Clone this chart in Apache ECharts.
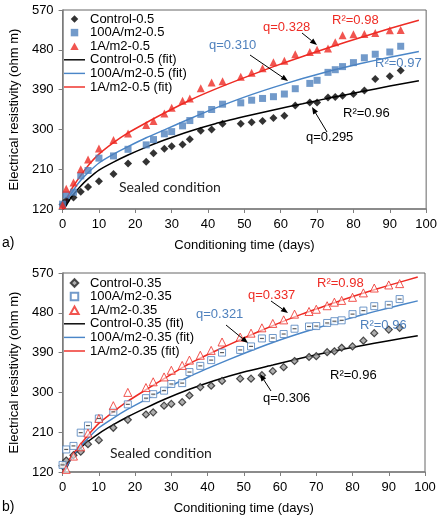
<!DOCTYPE html>
<html><head><meta charset="utf-8">
<script src="https://cdn.jsdelivr.net/npm/echarts@6/dist/echarts.min.js"></script>
<style>html,body{margin:0;padding:0;background:#fff}#c{width:440px;height:517px}</style>
</head><body><div id="c"></div>
<script>
// ---- data ----
const days = [0,1,3,5,7,10,14,18,23,25,28,30,33,35,38,41,44,49,52,55,58,61,64,68,70,73,75,77,80,83,86,90,93];
// panel a) w/c 0.5
const control05 = [130,139,146,159,170,183,199,223,227,246,256,262,266,278,297,300,313,313,316,319,326,331,354,361,361,372,373,376,380,388,414,420,433];
const a100_05   = [131,152,158,195,207,235,240,255,265,277,290,295,308,320,334,345,357,360,366,370,374,380,392,404,411,429,435,442,451,462,470,475,488];
const a1_05     = [129,166,180,210,232,257,276,291,310,319,336,349,365,370,393,406,409,419,428,438,452,455,470,475,480,483,497,513,515,516,518,524,525];
// panel b) w/c 0.35
const control035 = [134,146,158,166,183,192,220,238,250,255,270,274,278,293,312,315,326,331,331,339,348,357,371,380,382,391,393,401,404,417,434,442,446];
const a100_035   = [136,171,179,209,225,241,256,273,287,296,304,319,321,346,360,373,390,396,404,422,423,432,444,449,450,457,461,463,477,485,495,498,511];
const a1_035     = [null,126,156,177,208,241,270,300,311,324,335,350,361,373,384,395,414,425,434,446,456,464,477,483,488,496,504,508,515,525,536,543,546];
// fitted curves
const fitDays = [0,1,2,3,5,7,10,14,18,23,28,35,42,50,58,66,74,82,90,98];
const fitControl05 = [118,128,142,153,172,188,208,226,242,260,276,296,313,329,344,358,372,385,398,410];
const fit100_05    = [118,135,150,163,185,202,224,244,261,281,299,324,348,373,395,415,433,449,463,476];
const fit1_05      = [118,140,158,172,196,218,244,270,292,315,337,366,391,417,442,465,487,508,528,547];
const fitControl035 = [118,128,145,157,175,189,207,227,245,265,284,307,327,346,362,378,392,405,417,428];
const fit100_035    = [118,130,145,157,178,196,220,242,262,284,306,336,361,388,413,435,455,474,491,507];
const fit1_035      = [118,135,150,162,183,203,230,256,280,306,331,365,393,423,451,477,500,522,542,561];
// ticks
const yTicks = [120,210,300,390,480,570];
const xTicks = [0,10,20,30,40,50,60,70,80,90,100];

// ---- helpers ----
const FONT = '"Liberation Sans", Arial, sans-serif';
const pts = (xs, vs) => xs.map((d,i)=> vs[i]==null ? null : [d, vs[i]]).filter(p=>p);
const RED = '#ee2b24', BLUE = '#4f81bd', BLUEL = '#4a86c8';
const LINE_ICON = 'path://M0,0H22V1.5H0Z';
const DIAMOND_ICON = 'path://M5,0L10,5L5,10L0,5Z';
const RECT_ICON = 'path://M0,0H10V10H0Z';
const TRI_ICON = 'path://M5,0L10,9H0Z';

function axes(gi){
  const x = {
    gridIndex: gi, type:'value', min: xTicks[0], max: xTicks[xTicks.length-1], interval: xTicks[1]-xTicks[0],
    axisLine:{show:true, onZero:false, lineStyle:{color:'#7f7f7f', width:1.5}},
    axisTick:{show:true, length:4, lineStyle:{color:'#7f7f7f'}},
    axisLabel:{color:'#000', fontSize:13, fontFamily:FONT, margin:9},
    splitLine:{show:false},
    name:'Conditioning time (days)', nameLocation:'middle', nameGap:30,
    nameTextStyle:{color:'#000', fontSize:13, fontFamily:FONT}
  };
  const y = {
    gridIndex: gi, type:'value', min: yTicks[0], max: yTicks[yTicks.length-1], interval: yTicks[1]-yTicks[0],
    axisLine:{show:true, onZero:false, lineStyle:{color:'#7f7f7f', width:1.5}},
    axisTick:{show:true, length:4, lineStyle:{color:'#7f7f7f'}},
    axisLabel:{color:'#000', fontSize:13, fontFamily:FONT, margin:9},
    splitLine:{show:false},
    name:'Electrical resistivity (ohm m)', nameLocation:'middle', nameGap:40,
    nameTextStyle:{color:'#000', fontSize:13, fontFamily:FONT}
  };
  return [x,y];
}
function fitSeries(name, gi, vals, color){
  return {name, type:'line', xAxisIndex:gi, yAxisIndex:gi, smooth:0.2,
    symbol:'none', clip:true, data: pts(fitDays, vals),
    lineStyle:{color, width:1.5}, itemStyle:{color}, z:2};
}
function scat(name, gi, vals, symbol, size, style){
  return {name, type:'scatter', xAxisIndex:gi, yAxisIndex:gi, symbol, symbolSize:size,
    data: pts(days, vals), itemStyle:style, z:3};
}
function arrow(x1,y1,x2,y2){
  const ang = Math.atan2(y2-y1, x2-x1), L=7, W=2.8;
  const bx = x2 - L*Math.cos(ang), by = y2 - L*Math.sin(ang);
  const px = -Math.sin(ang)*W, py = Math.cos(ang)*W;
  return [
    {type:'line', shape:{x1,y1,x2:bx,y2:by}, style:{stroke:'#000', lineWidth:1}, z:10},
    {type:'polygon', shape:{points:[[x2,y2],[bx+px,by+py],[bx-px,by-py]]}, style:{fill:'#000'}, z:10}
  ];
}
function txt(text, x, y, fill, font){
  return {type:'text', x, y, z:10, style:{text, fill, font: font || ('13px ' + FONT), align:'left', verticalAlign:'middle'}};
}
function legendData(suffix){
  return [
    {name:'Control-' + suffix, icon:DIAMOND_ICON},
    {name:'100A/m2-' + suffix, icon:RECT_ICON},
    {name:'1A/m2-' + suffix, icon:TRI_ICON},
    {name:'Control-' + suffix + ' (fit)', icon:LINE_ICON},
    {name:'100A/m2-' + suffix + ' (fit)', icon:LINE_ICON},
    {name:'1A/m2-' + suffix + ' (fit)', icon:LINE_ICON}
  ];
}

const [xa0, ya0] = axes(0);
const [xa1, ya1] = axes(1);

const legendBase = {orient:'vertical', left:64, itemWidth:21, itemHeight:7.5, itemGap:0.6, padding:0,
  symbolKeepAspect:true,
  textStyle:{color:'#000', fontSize:13, fontFamily:FONT, lineHeight:13}};

const option = {
  animation:false,
  backgroundColor:'#fff',
  grid:[
    {left:52, top:10, width:376, height:199, show:true, borderColor:'#666', borderWidth:1, backgroundColor:'transparent'},
    {left:53, top:273, width:372, height:199, show:true, borderColor:'#666', borderWidth:1, backgroundColor:'transparent'}
  ],
  xAxis:[xa0, xa1],
  yAxis:[ya0, ya1],
  legend:[
    Object.assign({}, legendBase, {top:12.5, data:legendData('0.5')}),
    Object.assign({}, legendBase, {top:276.5, data:legendData('0.35')})
  ],
  series:[
    fitSeries('Control-0.5 (fit)', 0, fitControl05, '#000'),
    fitSeries('100A/m2-0.5 (fit)', 0, fit100_05, BLUEL),
    fitSeries('1A/m2-0.5 (fit)', 0, fit1_05, RED),
    scat('Control-0.5', 0, control05, 'diamond', 8, {color:'#000'}),
    scat('100A/m2-0.5', 0, a100_05, 'rect', 7, {color:BLUE}),
    scat('1A/m2-0.5', 0, a1_05, 'triangle', 8, {color:RED}),

    fitSeries('Control-0.35 (fit)', 1, fitControl035, '#000'),
    fitSeries('100A/m2-0.35 (fit)', 1, fit100_035, BLUEL),
    fitSeries('1A/m2-0.35 (fit)', 1, fit1_035, RED),
    scat('Control-0.35', 1, control035, 'diamond', 7, {color:'#9a9a9a', borderColor:'#222', borderWidth:1.2}),
    scat('100A/m2-0.35', 1, a100_035, 'rect', 7, {color:'#fff', borderColor:BLUE, borderWidth:1}),
    scat('1A/m2-0.35', 1, a1_035, 'triangle', 8, {color:'rgba(255,255,255,0.7)', borderColor:RED, borderWidth:1}),
    {name:'sqdash', type:'scatter', xAxisIndex:1, yAxisIndex:1, symbol:'rect', symbolSize:[4,1.2],
      data: pts(days, a100_035), itemStyle:{color:'#333'}, z:4, silent:true}
  ],
  graphic:[
    // panel a
    txt('q=0.328', 263, 27, RED),
    txt('R²=0.98', 332, 20, RED),
    txt('q=0.310', 209, 45, BLUE),
    txt('R²=0.97', 375, 63, BLUE),
    txt('R²=0.96', 343, 113, '#000'),
    txt('q=0.295', 306, 137, '#000'),
    txt('Sealed condition', 119, 187, '#222', '14px Lato, "Open Sans", sans-serif'),
    txt('a)', 2, 243, '#000', '14px ' + FONT),
    ...arrow(302,33,317,45),
    ...arrow(250,55,288,81),
    ...arrow(327,132,312,107),
    // panel b
    txt('q=0.337', 248, 295, RED),
    txt('R²=0.98', 317, 283, RED),
    txt('q=0.321', 196, 314, BLUE),
    txt('R²=0.96', 360, 325, BLUE),
    txt('R²=0.96', 330, 375, '#000'),
    txt('q=0.306', 263, 398, '#000'),
    txt('Sealed condition', 110, 453, '#222', '14px Lato, "Open Sans", sans-serif'),
    txt('b)', 2, 507, '#000', '14px ' + FONT),
    ...arrow(271,301,288,313),
    ...arrow(226,325,248,343),
    ...arrow(271,391,260,374)
  ]
};
const chart = echarts.init(document.getElementById('c'), null, {renderer:'canvas'});
chart.setOption(option);
</script>
</body></html>
